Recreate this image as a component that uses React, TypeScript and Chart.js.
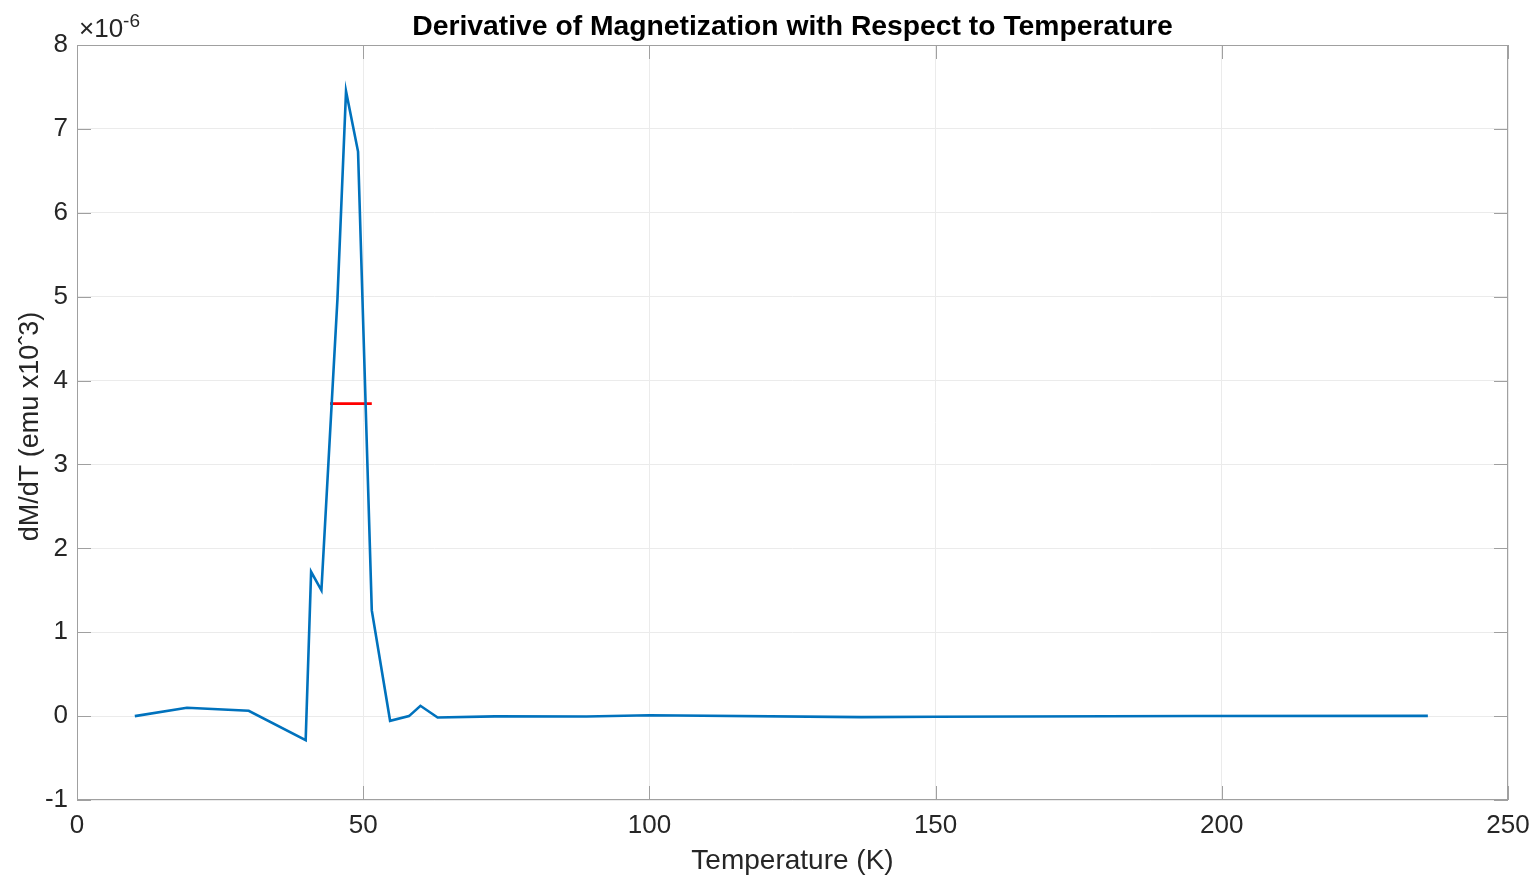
import { useEffect, useRef } from "react";
import { Chart, registerables } from "chart.js";

Chart.register(...registerables);

// Temperature (K)
const temperatureK = [10.1, 19.2, 30.0, 39.95, 40.9, 42.7, 45.5, 47.0, 49.1, 51.5, 54.7, 58.0, 60.0, 63.0, 73.0, 89.0, 100.0, 137.0, 150.0, 195.0, 236.0];
// dM/dT in units of 1e-6
const dMdT = [0.0, 0.1, 0.063, -0.286, 1.72, 1.5, 4.97, 7.45, 6.73, 1.26, -0.056, 0.0, 0.123, -0.016, -0.003, -0.005, 0.01, -0.012, -0.008, 0.002, 0.003];
// half-maximum marker
const halfMaxT = [44.2, 51.5];
const halfMaxValue = [3.725, 3.725];

const xTickValues = [0, 50, 100, 150, 200, 250];
const yTickValues = [-1, 0, 1, 2, 3, 4, 5, 6, 7, 8];

const titleText = "Derivative of Magnetization with Respect to Temperature";
const xLabel = "Temperature (K)";
const yLabel = "dM/dT (emu x10\u02C63)";

const FONT = "'Liberation Sans', Arial, Helvetica, sans-serif";

const decorPlugin = {
  id: "matlabDecor",
  afterDraw(chart: any) {
    const { ctx, chartArea } = chart;
    const { left, right, top, bottom } = chartArea;
    const xs = chart.scales.x;
    const ys = chart.scales.y;
    ctx.save();
    // box
    ctx.strokeStyle = "#a0a0a0";
    ctx.lineWidth = 1;
    ctx.strokeRect(left + 0.5, top + 0.5, right - left - 1, bottom - top - 1);
    // inner ticks
    const tl = 14;
    ctx.beginPath();
    xTickValues.forEach((v) => {
      const px = Math.round(xs.getPixelForValue(v)) + 0.5;
      ctx.moveTo(px, bottom);
      ctx.lineTo(px, bottom - tl);
      ctx.moveTo(px, top);
      ctx.lineTo(px, top + tl);
    });
    yTickValues.forEach((v) => {
      const py = Math.round(ys.getPixelForValue(v)) + 0.5;
      ctx.moveTo(left, py);
      ctx.lineTo(left + tl, py);
      ctx.moveTo(right, py);
      ctx.lineTo(right - tl, py);
    });
    ctx.stroke();

    // title
    ctx.fillStyle = "#000000";
    ctx.font = `bold 28.3px ${FONT}`;
    ctx.textAlign = "center";
    ctx.textBaseline = "alphabetic";
    ctx.fillText(titleText, (left + right) / 2, 35);

    // x label
    ctx.fillStyle = "#262626";
    ctx.font = `28px ${FONT}`;
    ctx.fillText(xLabel, (left + right) / 2, 869);

    // y label
    ctx.save();
    ctx.translate(38, (top + bottom) / 2 + 4);
    ctx.rotate(-Math.PI / 2);
    ctx.font = `27px ${FONT}`;
    ctx.fillText(yLabel, 0, 0);
    ctx.restore();

    // exponent
    ctx.textAlign = "left";
    ctx.font = `26px ${FONT}`;
    ctx.fillText("\u00D710", left + 2, 37);
    const w = ctx.measureText("\u00D710").width;
    ctx.font = `19px ${FONT}`;
    ctx.fillText("-6", left + 2 + w, 27);
    ctx.restore();
  },
};

export default function App() {
  const ref = useRef<HTMLCanvasElement | null>(null);
  useEffect(() => {
    if (!ref.current) return;
    const chart = new Chart(ref.current, {
      type: "scatter",
      data: {
        datasets: [
          {
            label: "dM/dT",
            data: temperatureK.map((t, i) => ({ x: t, y: dMdT[i] })),
            showLine: true,
            borderColor: "#0072BD",
            backgroundColor: "#0072BD",
            borderWidth: 2.6,
            pointRadius: 0,
            tension: 0,
          },
          {
            label: "FWHM",
            data: halfMaxT.map((t, i) => ({ x: t, y: halfMaxValue[i] })),
            showLine: true,
            borderColor: "#FF0000",
            backgroundColor: "#FF0000",
            borderWidth: 2.6,
            pointRadius: 0,
          },
        ],
      },
      options: {
        responsive: false,
        animation: false,
        devicePixelRatio: 1,
        layout: { padding: { top: 45, right: 25, left: 0, bottom: 0 } },
        plugins: {
          legend: { display: false },
          tooltip: { enabled: false },
          title: { display: false },
        },
        scales: {
          x: {
            type: "linear",
            min: 0,
            max: 250,
            afterFit: (s: any) => {
              s.height = 76;
              s.paddingLeft = 0;
              s.paddingRight = 0;
            },
            afterBuildTicks: (s: any) => {
              s.ticks = xTickValues.map((v) => ({ value: v }));
            },
            ticks: {
              autoSkip: false,
              maxRotation: 0,
              padding: 10,
              color: "#262626",
              font: { family: FONT, size: 26 },
            },
            grid: { color: "#ebebeb", lineWidth: 1, drawTicks: false },
            border: { display: false },
          },
          y: {
            type: "linear",
            min: -1,
            max: 8,
            afterFit: (s: any) => {
              s.width = 77;
              s.paddingTop = 0;
              s.paddingBottom = 0;
            },
            afterBuildTicks: (s: any) => {
              s.ticks = yTickValues.map((v) => ({ value: v }));
            },
            ticks: {
              autoSkip: false,
              padding: 9,
              color: "#262626",
              font: { family: FONT, size: 26 },
            },
            grid: { color: "#ebebeb", lineWidth: 1, drawTicks: false },
            border: { display: false },
          },
        },
      },
      plugins: [decorPlugin],
    });
    return () => chart.destroy();
  }, []);
  return (
    <div style={{ position: "absolute", left: 0, top: 0, width: 1533, height: 876, background: "#fff" }}>
      <canvas ref={ref} width={1533} height={876} />
    </div>
  );
}
